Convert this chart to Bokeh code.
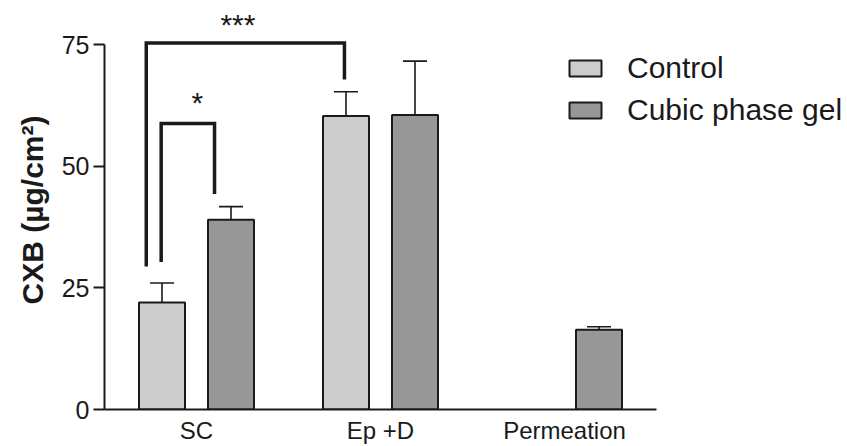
from bokeh.plotting import figure
from bokeh.models import (ColumnDataSource, Whisker, TeeHead, FixedTicker, Range1d,
                          Legend, LegendItem)
from bokeh.core.properties import value
from bokeh.embed import file_html
from bokeh.resources import INLINE

# ---------------- data ----------------
categories = ["SC", "Ep +D", "Permeation"]
control = [22.0, 60.3, None]
control_err = [4.0, 5.0, None]
cubic = [39.0, 60.5, 16.4]
cubic_err = [2.7, 11.1, 0.6]
series_names = ["Control", "Cubic phase gel"]
y_ticks = [0, 25, 50, 75]

# significance brackets
sig_labels = ["***", "*"]
sig_left_x = [0.227, 0.308]
sig_right_x = [1.304, 0.598]
sig_left_bottom = [29.4, 30.3]
sig_right_bottom = [67.8, 44.3]
sig_top = [75.3, 58.8]
sig_text_x = [0.725, 0.505]
sig_text_y = [79.1, 63.0]

# ---------------- styling ----------------
FONT = "Liberation Sans"
DARK = "#1a1a1a"
COL_CTRL = "#cccccc"
COL_CUBIC = "#979797"
BAR_W = 0.25
OFFSET = 0.1875

p = figure(width=847, height=446, output_backend="svg", toolbar_location=None,
           x_range=Range1d(0, 4.038), y_range=Range1d(0, 82),
           min_border_left=104, min_border_right=0, min_border_top=10,
           min_border_bottom=37)
p.outline_line_color = None
p.grid.visible = False

ctrl_x, ctrl_top, ctrl_up = [], [], []
cub_x, cub_top, cub_up = [], [], []
for i, (c, ce, g, ge) in enumerate(zip(control, control_err, cubic, cubic_err)):
    if c is not None:
        ctrl_x.append(i + 0.5 - OFFSET)
        ctrl_top.append(c)
        ctrl_up.append(c + ce)
    if g is not None:
        cub_x.append(i + 0.5 + OFFSET)
        cub_top.append(g)
        cub_up.append(g + ge)

src_c = ColumnDataSource(dict(x=ctrl_x, top=ctrl_top, up=ctrl_up))
src_g = ColumnDataSource(dict(x=cub_x, top=cub_top, up=cub_up))

r_c = p.vbar(x="x", top="top", width=BAR_W, source=src_c, fill_color=COL_CTRL,
             line_color=DARK, line_width=2)
r_g = p.vbar(x="x", top="top", width=BAR_W, source=src_g, fill_color=COL_CUBIC,
             line_color=DARK, line_width=2)

for src in (src_c, src_g):
    w = Whisker(base="x", lower="top", upper="up", source=src, dimension="height",
                line_color=DARK, line_width=1.6, lower_head=None,
                upper_head=TeeHead(size=24, line_color=DARK, line_width=1.6))
    p.add_layout(w)

# significance brackets
xs, ys = [], []
for lx, rx, lb, rb, t in zip(sig_left_x, sig_right_x, sig_left_bottom, sig_right_bottom, sig_top):
    xs.append([lx, lx, rx, rx])
    ys.append([lb, t, t, rb])
p.multi_line(xs, ys, line_color=DARK, line_width=3.5, line_join="miter")
p.text(x=sig_text_x, y=sig_text_y, text=sig_labels, text_align="center",
       text_baseline="alphabetic", text_font=value(FONT), text_font_size="30px",
       text_color=DARK)

# axes
yax = p.yaxis[0]
yax.bounds = (0, 75)
yax.ticker = FixedTicker(ticks=y_ticks)
yax.minor_tick_line_color = None
yax.major_tick_out = 11
yax.major_tick_in = 0
yax.major_tick_line_width = 2
yax.major_tick_line_color = DARK
yax.axis_line_width = 2
yax.axis_line_color = DARK
yax.major_label_text_font = FONT
yax.major_label_text_font_size = "25px"
yax.major_label_text_color = DARK
yax.major_label_standoff = 4
yax.axis_label = "CXB (µg/cm²)"
yax.axis_label_text_font = FONT
yax.axis_label_text_font_size = "30px"
yax.axis_label_text_font_style = "bold"
yax.axis_label_text_color = DARK
yax.axis_label_standoff = 10

xax = p.xaxis[0]
xax.bounds = (0, 3)
xax.ticker = FixedTicker(ticks=[i + 0.5 for i in range(len(categories))])
xax.major_label_overrides = {i + 0.5: c for i, c in enumerate(categories)}
xax.minor_tick_line_color = None
xax.major_tick_line_color = None
xax.major_tick_out = 0
xax.major_tick_in = 0
xax.axis_line_width = 2
xax.axis_line_color = DARK
xax.major_label_text_font = FONT
xax.major_label_text_font_size = "24px"
xax.major_label_text_color = DARK
xax.major_label_standoff = 7

legend = Legend(items=[LegendItem(label=series_names[0], renderers=[r_c]),
                       LegendItem(label=series_names[1], renderers=[r_g])],
                location=(461, 282), orientation="vertical",
                glyph_width=40, glyph_height=20, label_standoff=22, spacing=8,
                padding=0, margin=0, border_line_color=None,
                background_fill_alpha=0, label_text_font=FONT,
                label_text_font_size="30px", label_text_color=DARK)
p.add_layout(legend)

open("out.html", "w").write(file_html(p, INLINE))
